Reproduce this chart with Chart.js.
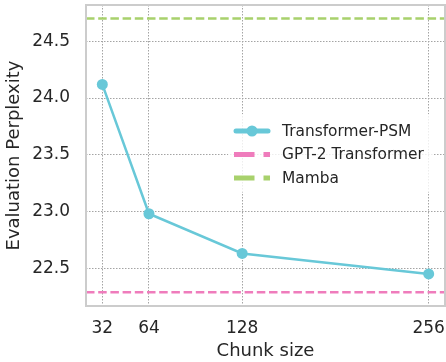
<!DOCTYPE html>
<html>
<head>
<meta charset="utf-8">
<script src="https://cdn.jsdelivr.net/npm/chart.js@4.4.1/dist/chart.umd.min.js"></script>
<style>
  html, body { margin: 0; padding: 0; background: #ffffff; }
  #wrap { width: 446px; height: 362px; }
</style>
</head>
<body>
<div id="wrap"><canvas id="c" width="446" height="362"></canvas></div>
<script>
// ---- data ----
const chunkSizes = [32, 64, 128, 256];
const psmPerplexity = [24.12, 22.98, 22.63, 22.45];
const gpt2Perplexity = 22.288;
const mambaPerplexity = 24.70;
const xTickValues = [32, 64, 128, 256];
const yTickValues = [22.5, 23.0, 23.5, 24.0, 24.5];
const seriesNames = ['Transformer-PSM', 'GPT-2 Transformer', 'Mamba'];
const X_MIN = 20.8, X_MAX = 267.2;
const Y_MIN = 22.167, Y_MAX = 24.82;

const COLORS = ['#68c8d8', '#ef7cbc', '#a8d16c'];
const FONT = "'DejaVu Sans', sans-serif";

const framePlugin = {
  id: 'frame',
  afterDraw(chart) {
    const { ctx, chartArea: a } = chart;
    ctx.save();
    ctx.strokeStyle = '#cccccc';
    ctx.lineWidth = 2;
    ctx.strokeRect(a.left, a.top, a.right - a.left, a.bottom - a.top);
    ctx.restore();
  }
};

const legendPlugin = {
  id: 'mplLegend',
  afterDraw(chart) {
    const { ctx } = chart;
    const ds = chart.data.datasets;
    const bx = 228, by = 114, bw = 205, bh = 78;
    ctx.save();
    ctx.fillStyle = 'rgba(255,255,255,0.8)';
    ctx.beginPath();
    if (ctx.roundRect) ctx.roundRect(bx, by, bw, bh, 4); else ctx.rect(bx, by, bw, bh);
    ctx.fill();
    const x0 = 234, len = 36, tx = 282;
    const rows = [131, 154.5, 178];
    ds.forEach((d, i) => {
      const y = rows[i];
      ctx.save();
      ctx.strokeStyle = d.borderColor;
      ctx.lineWidth = 5;
      ctx.lineCap = 'butt';
      if (i > 0) ctx.setLineDash([20.5, 9]);
      else ctx.lineCap = 'round';
      ctx.beginPath();
      ctx.moveTo(x0 + (i === 0 ? 2 : 0), y);
      ctx.lineTo(x0 + len - (i === 0 ? 2 : 0), y);
      ctx.stroke();
      ctx.restore();
      if (i === 0) {
        ctx.fillStyle = d.borderColor;
        ctx.beginPath();
        ctx.arc(x0 + len / 2, y, 5.5, 0, Math.PI * 2);
        ctx.fill();
      }
      ctx.fillStyle = '#262626';
      ctx.font = '15.4px ' + FONT;
      ctx.textBaseline = 'middle';
      ctx.textAlign = 'left';
      ctx.fillText(d.label, tx, y + 0.5);
    });
    ctx.restore();
  }
};

const noPad = () => ({ left: 0, top: 0, right: 0, bottom: 0 });

new Chart(document.getElementById('c'), {
  type: 'line',
  data: {
    datasets: [
      {
        label: seriesNames[0],
        data: chunkSizes.map((x, i) => ({ x, y: psmPerplexity[i] })),
        borderColor: COLORS[0],
        backgroundColor: COLORS[0],
        borderWidth: 2.5,
        pointRadius: 5.5,
        pointHoverRadius: 5.5,
        pointBorderWidth: 0,
        tension: 0,
        fill: false,
        order: 0
      },
      {
        label: seriesNames[1],
        data: [{ x: X_MIN, y: gpt2Perplexity }, { x: X_MAX, y: gpt2Perplexity }],
        borderColor: COLORS[1],
        backgroundColor: COLORS[1],
        borderWidth: 2.5,
        borderDash: [8.5, 3.7],
        pointRadius: 0,
        fill: false,
        order: 1
      },
      {
        label: seriesNames[2],
        data: [{ x: X_MIN, y: mambaPerplexity }, { x: X_MAX, y: mambaPerplexity }],
        borderColor: COLORS[2],
        backgroundColor: COLORS[2],
        borderWidth: 2.5,
        borderDash: [8.5, 3.7],
        pointRadius: 0,
        fill: false,
        order: 2
      }
    ]
  },
  options: {
    responsive: false,
    animation: false,
    devicePixelRatio: 1,
    layout: { autoPadding: false, padding: { top: 5, right: 1, left: 0, bottom: 0 } },
    plugins: { legend: { display: false }, tooltip: { enabled: false } },
    scales: {
      x: {
        type: 'linear',
        min: X_MIN,
        max: X_MAX,
        afterBuildTicks(s) { s.ticks = xTickValues.map(v => ({ value: v })); },
        afterFit(s) { s.height = 56; s.paddingLeft = 0; s.paddingRight = 0; s.getPadding = noPad; },
        ticks: {
          color: '#262626',
          font: { family: FONT, size: 17 },
          padding: 12,
          maxRotation: 0,
          autoSkip: false,
          callback: v => String(v)
        },
        grid: { color: '#a4a4a4', lineWidth: 1, drawTicks: false },
        border: { display: false, dash: [1.5, 1.5] },
        title: {
          display: true,
          text: 'Chunk size',
          color: '#262626',
          font: { family: FONT, size: 18 },
          padding: { top: 0, bottom: 0 }
        }
      },
      y: {
        type: 'linear',
        min: Y_MIN,
        max: Y_MAX,
        afterBuildTicks(s) { s.ticks = yTickValues.map(v => ({ value: v })); },
        afterFit(s) { s.width = 86; s.paddingTop = 0; s.paddingBottom = 0; s.getPadding = noPad; },
        ticks: {
          color: '#262626',
          font: { family: FONT, size: 17 },
          padding: 16,
          callback: v => Number(v).toFixed(1)
        },
        grid: { color: '#a4a4a4', lineWidth: 1, drawTicks: false },
        border: { display: false, dash: [1.5, 1.5] },
        title: {
          display: true,
          text: 'Evaluation Perplexity',
          color: '#262626',
          font: { family: FONT, size: 18 },
          padding: { top: 4, bottom: 0 }
        }
      }
    }
  },
  plugins: [framePlugin, legendPlugin]
});
</script>
</body>
</html>
